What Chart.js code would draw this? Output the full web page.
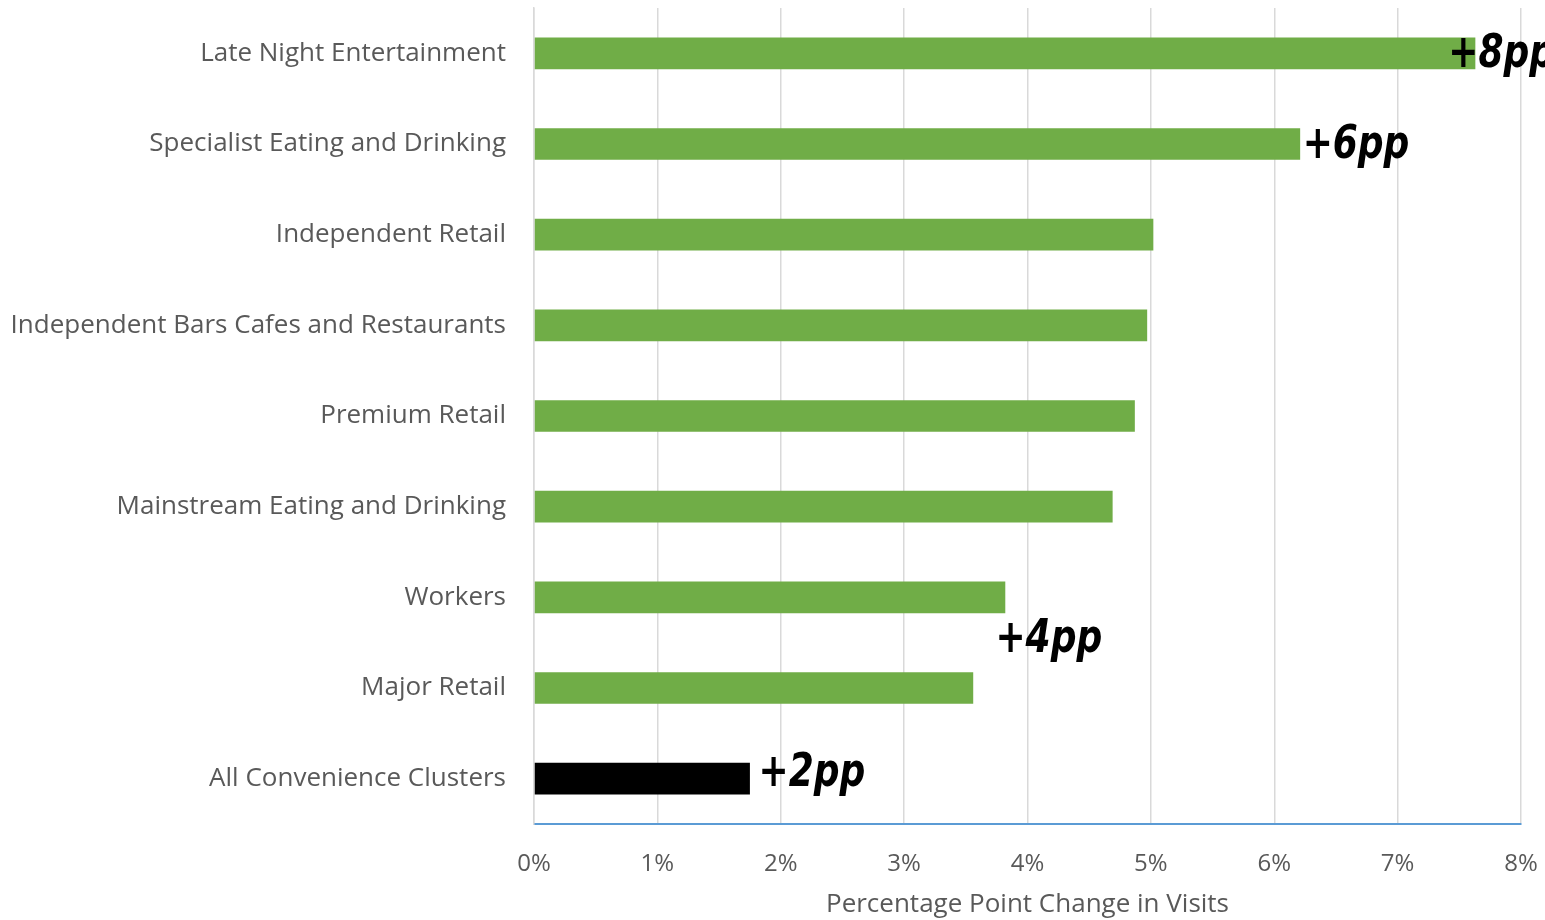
<!DOCTYPE html>
<html lang="en">
<head>
  <meta charset="UTF-8" />
  <title>Percentage Point Change in Visits</title>
  <script src="https://cdn.jsdelivr.net/npm/chart.js"></script>
  <style>
    html, body { margin: 0; padding: 0; background: #fff; }
    #wrap { width: 1545px; height: 920px; position: relative; }
  </style>
</head>
<body>
  <div id="wrap"><canvas id="barChart"></canvas></div>

  <script>
    // data
    const categories = [
      "Late Night Entertainment",
      "Specialist Eating and Drinking",
      "Independent Retail",
      "Independent Bars Cafes and Restaurants",
      "Premium Retail",
      "Mainstream Eating and Drinking",
      "Workers",
      "Major Retail",
      "All Convenience Clusters"
    ];
    const changeValues = [7.63, 6.21, 5.02, 4.97, 4.87, 4.69, 3.82, 3.56, 1.75];
    const barColors = ["#70ad47", "#70ad47", "#70ad47", "#70ad47", "#70ad47", "#70ad47", "#70ad47", "#70ad47", "#000000"];
    const xTicks = [0, 1, 2, 3, 4, 5, 6, 7, 8];

    // callout labels: text, x value (%), category index they sit at
    const calloutText = ["+8pp", "+6pp", "+4pp", "+2pp"];
    const calloutX = [7.41, 6.23, 3.74, 1.82];
    const calloutRow = [0, 1, 6.45, 7.93];

    const callouts = {
      id: "callouts",
      afterDatasetsDraw(chart) {
        const { ctx, scales: { x, y } } = chart;
        const squeeze = 0.87; // the original uses a narrow face
        ctx.save();
        ctx.font = "italic bold 46px 'DejaVu Sans Condensed', 'DejaVu Sans', sans-serif";
        ctx.fillStyle = "#000";
        ctx.textBaseline = "middle";
        ctx.textAlign = "left";
        calloutText.forEach((t, i) => {
          ctx.save();
          ctx.translate(x.getPixelForValue(calloutX[i]), y.getPixelForValue(calloutRow[i]) + 2);
          ctx.scale(squeeze, 1);
          ctx.fillText(t, 0, 0);
          ctx.restore();
        });
        ctx.restore();
      }
    };

    const labelFont = { family: "'Open Sans', sans-serif", size: 26 };

    new Chart(document.getElementById("barChart"), {
      type: "bar",
      data: {
        labels: categories,
        datasets: [{
          data: changeValues,
          backgroundColor: barColors,
          categoryPercentage: 1,
          barPercentage: 0.35
        }]
      },
      options: {
        indexAxis: "y",
        responsive: true,
        maintainAspectRatio: false,
        animation: false,
        layout: { padding: { top: 8, right: 24, left: 0, bottom: 0 } },
        plugins: {
          legend: { display: false },
          tooltip: { enabled: false }
        },
        scales: {
          x: {
            min: 0,
            max: 8,
            afterBuildTicks: s => { s.ticks = xTicks.map(v => ({ value: v })); },
            afterFit: s => { s.height = 96; s.paddingLeft = 0; s.paddingRight = 0; },
            grid: { color: "#d9d9d9", lineWidth: 1.5, drawTicks: false },
            border: { color: "#5b9bd5", width: 2 },
            ticks: {
              padding: 26,
              color: "#595959",
              font: { family: "'Open Sans', sans-serif", size: 24 },
              maxRotation: 0,
              callback: v => v + "%"
            },
            title: {
              display: true,
              text: "Percentage Point Change in Visits",
              color: "#595959",
              font: labelFont,
              padding: { top: 4, bottom: 0 }
            }
          },
          y: {
            afterFit: s => { s.width = 534; s.paddingTop = 0; s.paddingBottom = 0; },
            grid: { display: false, drawTicks: false },
            border: { color: "#d9d9d9", width: 1.5 },
            ticks: {
              padding: 28,
              color: "#595959",
              font: labelFont
            }
          }
        }
      },
      plugins: [callouts]
    });
  </script>
</body>
</html>
